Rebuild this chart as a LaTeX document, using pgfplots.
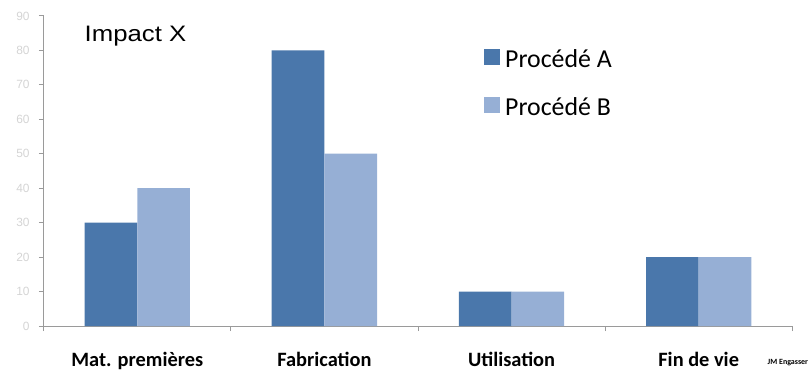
\documentclass[border=0pt]{standalone}
\usepackage{pgfplots}
\pgfplotsset{compat=1.18}
\usepackage{fontspec}
\setmainfont{Carlito}
\newfontfamily\titlefont[FakeStretch=1.15]{Liberation Sans}
\newfontfamily\tickfont{Liberation Sans}

\definecolor{procA}{HTML}{4A77AB}
\definecolor{procB}{HTML}{96AFD5}
\definecolor{axisgray}{HTML}{9A9A9A}
\definecolor{ticktext}{HTML}{D4D4D4}

\begin{document}
\begin{tikzpicture}[x=1pt,y=1pt]
\begin{axis}[
  at={(0,0)}, anchor=south west,
  scale only axis,
  width=753pt, height=312pt,
  xmin=0, xmax=4, ymin=0, ymax=90,
  ybar=0pt, bar width=53pt,
  axis x line*=bottom, axis y line*=left,
  axis line style={draw=axisgray, line width=0.9pt},
  tick style={draw=axisgray, line width=0.9pt},
  tick align=outside,
  major tick length=5pt, minor tick length=5pt,
  xtick={0.5,1.5,2.5,3.5},
  xticklabels={Mat. premières, Fabrication, Utilisation, Fin de vie},
  minor xtick={0,1,2,3,4},
  major x tick style={draw=none},
  xticklabel style={font=\fontsize{20.5}{20.5}\selectfont\bfseries, anchor=base, inner sep=0pt, yshift=-35.5pt},
  ytick={0,10,...,90},
  yticklabel style={font=\tickfont\fontsize{12}{12}\selectfont, text=ticktext, inner sep=0pt, xshift=-9pt},
  /pgf/number format/assume math mode=true,
  legend style={
    at={(rel axis cs:0.5883,0.898)}, anchor=north west,
    draw=none, fill=none, inner sep=0pt,
    font=\fontsize{26}{26}\selectfont,
    nodes={inner sep=0pt, text height=20pt, text depth=6pt},
    column sep=5pt, row sep=22.5pt,
    cells={anchor=west},
  },
  clip=false,
]
% Procédé A
\addplot[fill=procA, draw=none,
  legend image code/.code={\fill[procA] (0pt,-4pt) rectangle (16pt,12pt);}]
  coordinates {(0.5,30) (1.5,80) (2.5,10) (3.5,20)};
% Procédé B
\addplot[fill=procB, draw=none,
  legend image code/.code={\fill[procB] (0pt,-4pt) rectangle (16pt,12pt);}]
  coordinates {(0.5,40) (1.5,50) (2.5,10) (3.5,20)};
\legend{Procédé A, Procédé B}
\node[anchor=base west, inner sep=0pt, font=\titlefont\fontsize{22.5}{22.5}\selectfont]
  at (rel axis cs:0.0545,0.917) {Impact X};
\node[anchor=base west, inner sep=0pt, font=\fontsize{8}{8}\selectfont\bfseries]
  at (rel axis cs:0.967,-0.125) {JM Engasser};
\end{axis}
\useasboundingbox (-44pt,-45pt) rectangle (764pt,328pt);
\end{tikzpicture}
\end{document}
